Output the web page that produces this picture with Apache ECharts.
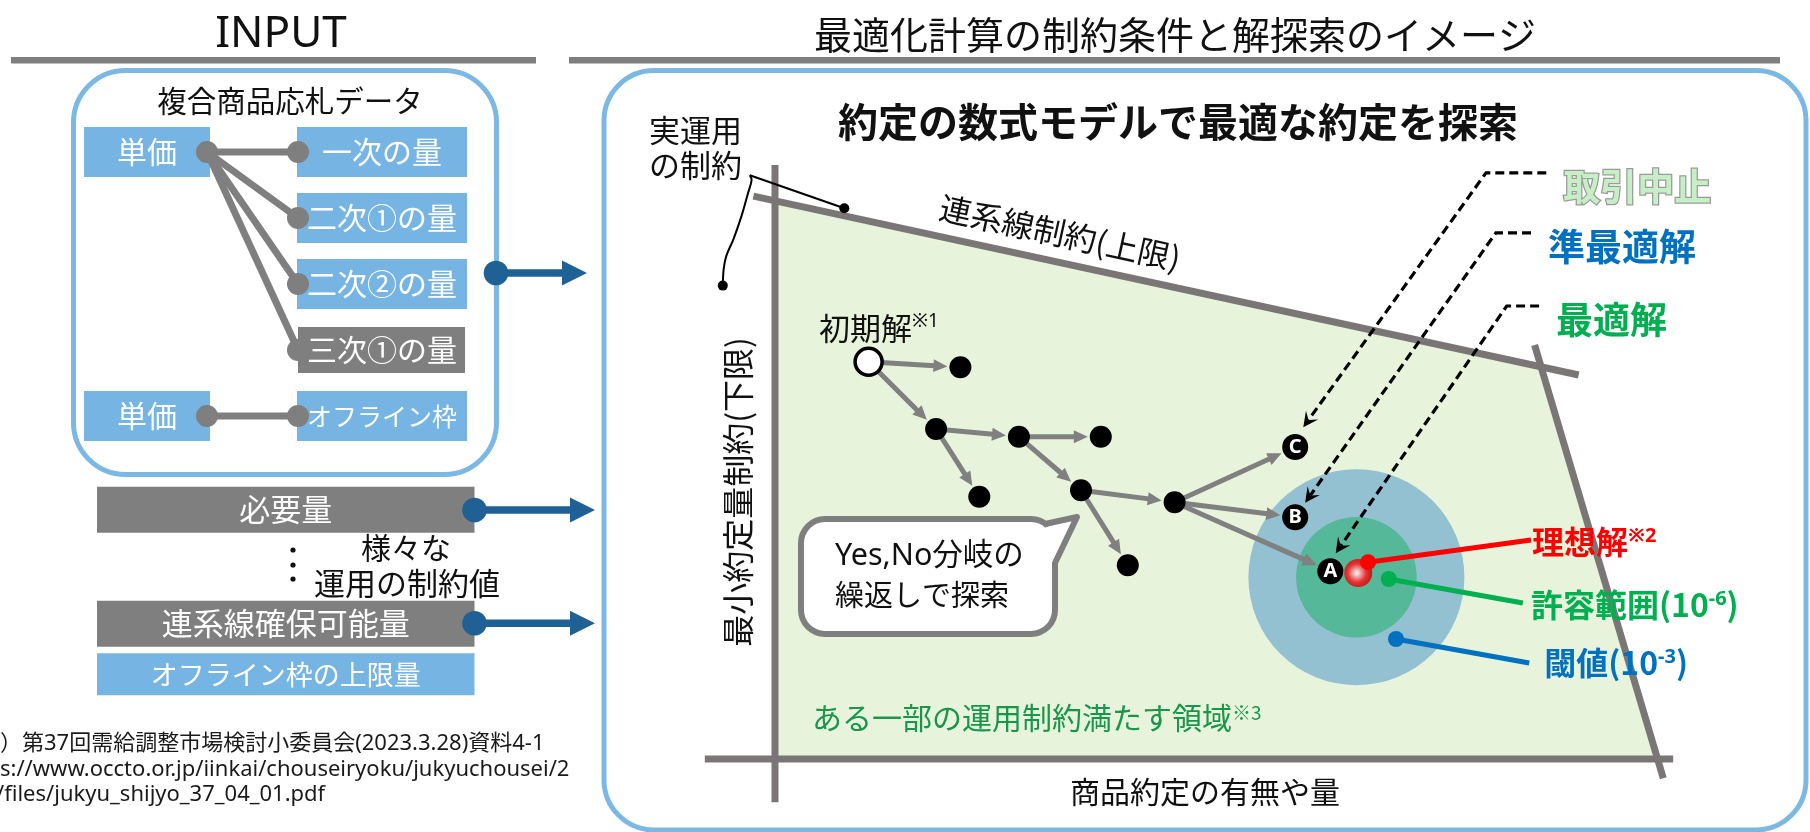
<!DOCTYPE html>
<html lang="ja">
<head>
<meta charset="utf-8">
<title>最適化計算の制約条件と解探索のイメージ</title>
<script src="https://cdn.jsdelivr.net/npm/echarts@6/dist/echarts.min.js"></script>
<style>
  html, body { margin: 0; padding: 0; background: #fff; }
  #chart { width: 1810px; height: 832px; }
</style>
</head>
<body>
<div id="chart"></div>
<script>
// ---------------- texts ----------------
const inputTitle = 'INPUT';
const panelTitle = '最適化計算の制約条件と解探索のイメージ';
const searchTitle = '約定の数式モデルで最適な約定を探索';
const bidDataTitle = '複合商品応札データ';
const priceLabel = '単価';
const quantityLabels = ['一次の量', '二次①の量', '二次②の量', '三次①の量', 'オフライン枠'];
const constraintItems = ['必要量', '連系線確保可能量', 'オフライン枠の上限量'];
const variousText = ['様々な', '運用の制約値'];
const sourceNote = [
  '）第37回需給調整市場検討小委員会(2023.3.28)資料4-1',
  's://www.occto.or.jp/iinkai/chouseiryoku/jukyuchousei/2',
  '/files/jukyu_shijyo_37_04_01.pdf'
];
const xAxisName = '商品約定の有無や量';
const minConstraintName = '最小約定量制約(下限)';
const linkConstraintName = '連系線制約(上限)';
const bracketText = ['実運用', 'の制約'];
const regionText = 'ある一部の運用制約満たす領域';
const bubbleText = ['Yes,No分岐の', '繰返しで探索'];
const initialLabel = '初期解';

// ---------------- bid data links (rows of the INPUT panel) ----------------
const priceRows = [0, 4];                          // rows holding a 単価 item
const quantityRows = [0, 1, 2, 3, 4];              // rows holding a quantity item
const bidLinks = [[0, 0], [0, 1], [0, 2], [0, 3], [4, 4]]; // [単価 row, quantity row]

// ---------------- search space (x: 0-100, y: 0-100) ----------------
const minContractLine = [[0, 99.0], [0, -7.2]];
const interconnectLine = [[-2.4, 93.8], [89.3, 64.0]];
const upperLimitLine = [[84.4, 69.0], [98.7, -3.2]];
const baseLine = [[-7.8, 0], [99.8, 0]];

const initialSolution = [10.4, 66.2];
const searchSteps = [
  [20.6, 65.3], [17.9, 55.0], [27.1, 53.7], [36.2, 53.7],
  [22.7, 43.7], [34.0, 44.8], [39.2, 32.3], [44.4, 42.8]
];
const candidateNames = ['C', 'B', 'A'];
const candidates = [[57.8, 52.0], [57.8, 40.3], [61.7, 31.3]];
const searchEdges = [
  ['S', 0], ['S', 1], [1, 2], [2, 3], [1, 4], [2, 5],
  [5, 7], [5, 6], [7, 'C'], [7, 'B'], [7, 'A']
];

const idealSolution = [64.8, 31.0];
const zoneCenter = [64.6, 30.3];
const thresholdRadius = 12.0;   // 閾値 10^-3
const toleranceRadius = 6.7;    // 許容範囲 10^-6

const noteTexts = ['理想解{s|※2}', '許容範囲(10{s|-6})', '閾値(10{s|-3})'];
const noteFrom = [[65.9, 32.8], [68.2, 30.0], [69.0, 20.0]];
const noteTo = [[84.0, 36.5], [83.1, 26.0], [83.8, 16.0]];

const statusTexts = ['取引中止', '準最適解', '最適解'];
const statusPaths = [
  [[85.7, 97.7], [79.0, 97.7], [58.7, 55.3]],
  [[84.0, 87.7], [80.1, 87.7], [58.9, 42.7]],
  [[84.9, 75.5], [81.3, 75.5], [62.3, 34.3]]
];

const bracketToLink = [[-2.8, 97.3], [7.7, 91.8]];
const bracketToMin = [[-2.8, 97.3], [-2.6, 96.5], [-3.0, 94.3], [-3.7, 90.6],
                      [-4.6, 86.7], [-5.4, 83.9], [-5.7, 81.7], [-5.8, 78.9]];

// ---------------- styles ----------------
const JP = '"Noto Sans CJK JP", "Noto Sans", sans-serif';
const LATIN = '"Noto Sans", "Noto Sans CJK JP", sans-serif';
const BOX_BLUE = '#76b5e3';
const FRAME_BLUE = '#7cb8e4';
const BOX_GREY = '#7f7f7f';
const NAVY = '#1f6195';
const AXIS_GREY = '#7a7676';
const ARROW_GREY = '#808080';
const INK = '#111111';
const noteColors = ['#ff0000', '#00b050', '#0070c0'];
const noteOffsets = [[1, 2], [8, 2], [15, 0]];
const statusColors = ['#c6efc6', '#0070c0', '#00b050'];
const zoneColors = ['#93c1d1', '#55b898'];

// ---------------- helpers ----------------
function text(x, y, str, size, o = {}) {
  const align = o.align || 'center';
  return {
    type: 'text', x, y, z: o.z || 100, rotation: o.rotation || 0,
    style: {
      text: str,
      fill: o.color || INK,
      font: (o.weight || 'normal') + ' ' + size + 'px ' + (o.family || JP),
      textAlign: align, align: align,
      textVerticalAlign: 'middle', verticalAlign: 'middle',
      rich: o.rich
    }
  };
}
function rect(x, y, w, h, fill, z = 1) {
  return { type: 'rect', z, shape: { x, y, width: w, height: h }, style: { fill } };
}
function navyArrow(cx, cy, tipX) {
  return [
    { type: 'line', z: 5, shape: { x1: cx, y1: cy, x2: tipX - 22, y2: cy }, style: { stroke: NAVY, lineWidth: 7.5 } },
    { type: 'polygon', z: 5, shape: { points: [[tipX, cy], [tipX - 25, cy - 12.5], [tipX - 25, cy + 12.5]] }, style: { fill: NAVY } },
    { type: 'circle', z: 5, shape: { cx, cy, r: 12.3 }, style: { fill: NAVY } }
  ];
}
function intersect(l1, l2) {
  const [[x1, y1], [x2, y2]] = l1, [[x3, y3], [x4, y4]] = l2;
  const d = (x1 - x2) * (y3 - y4) - (y1 - y2) * (x3 - x4);
  const a = x1 * y2 - y1 * x2, b = x3 * y4 - y3 * x4;
  return [(a * (x3 - x4) - (x1 - x2) * b) / d, (a * (y3 - y4) - (y1 - y2) * b) / d];
}
function nodeAt(k) {
  if (k === 'S') return initialSolution;
  if (typeof k === 'number') return searchSteps[k];
  return candidates[candidateNames.indexOf(k)];
}
// straight segments drawn through the axis scales
function segmentSeries(xi, yi, segs, color, width, z) {
  return {
    type: 'custom', xAxisIndex: xi, yAxisIndex: yi, z,
    data: segs.map(s => [s[0][0], s[0][1], s[1][0], s[1][1]]),
    renderItem: (p, api) => {
      const a = api.coord([api.value(0), api.value(1)]);
      const b = api.coord([api.value(2), api.value(3)]);
      return { type: 'line', shape: { x1: a[0], y1: a[1], x2: b[0], y2: b[1] }, style: { stroke: color, lineWidth: width } };
    }
  };
}

// feasible region bounded by the four constraint lines
const feasibleRegion = [
  intersect(minContractLine, interconnectLine),
  intersect(interconnectLine, upperLimitLine),
  intersect(upperLimitLine, baseLine),
  intersect(baseLine, minContractLine)
];

// ---------------- layout graphics ----------------
const rowY = r => 152 + 66 * r;
const g = [];
// headers
g.push(text(281, 34, inputTitle, 44, { family: LATIN }));
g.push(text(1175, 35, panelTitle, 38));
g.push(rect(11, 57, 525, 6.5, '#7f7f7f'));
g.push(rect(569, 57, 1211, 6.5, '#7f7f7f'));
// panel frames
g.push({ type: 'rect', z: 1, shape: { x: 73.5, y: 70.5, width: 423, height: 404, r: 52 },
         style: { fill: 'none', stroke: FRAME_BLUE, lineWidth: 5 } });
g.push({ type: 'rect', z: 1, shape: { x: 604, y: 70.5, width: 1202, height: 759.5, r: 50 },
         style: { fill: 'none', stroke: FRAME_BLUE, lineWidth: 5 } });
g.push(text(290, 101, bidDataTitle, 29.5));
// price boxes
priceRows.forEach(r => {
  g.push(rect(84, rowY(r) - 25, 126, 50, BOX_BLUE));
  g.push(text(147, rowY(r), priceLabel, 30, { color: '#fff' }));
});
// quantity boxes
quantityRows.forEach((r, i) => {
  const grey = quantityLabels[i] === '三次①の量';
  if (grey) g.push(rect(298, rowY(r) - 23, 167, 46, BOX_GREY));
  else g.push(rect(297, rowY(r) - 25, 170, 50, BOX_BLUE));
  const size = quantityLabels[i] === 'オフライン枠' ? 25 : 30;
  g.push(text(382, rowY(r), quantityLabels[i], size, { color: '#fff' }));
});
// operational constraint boxes
const cBoxes = [[486.7, 46, BOX_GREY, 31], [600.7, 46, BOX_GREY, 31], [653.3, 42, BOX_BLUE, 27]];
constraintItems.forEach((t, i) => {
  const [y, h, fill, fs] = cBoxes[i];
  g.push(rect(97, y, 377.5, h, fill));
  g.push(text(285.7, y + h / 2, t, fs, { color: '#fff' }));
});
[550, 565, 579].forEach(y => g.push({ type: 'circle', z: 5, shape: { cx: 293, cy: y, r: 2.6 }, style: { fill: '#111' } }));
g.push(text(406, 548, variousText[0], 30));
g.push(text(407, 583, variousText[1], 31));
g.push(...navyArrow(496, 273, 587), ...navyArrow(474.5, 510, 595), ...navyArrow(474.5, 623.3, 595));
// source note
sourceNote.forEach((t, i) => g.push(text(i === 2 ? -4 : 0, [744, 770, 795][i], t, 22, { align: 'left', family: LATIN, color: '#1a1a1a' })));

// search space annotations
g.push(text(1178, 122, searchTitle, 40, { weight: 'bold' }));
g.push(text(649, 130, bracketText[0], 31, { align: 'left' }));
g.push(text(649, 165, bracketText[1], 31, { align: 'left' }));
g.push(text(1060, 233, linkConstraintName, 32, { rotation: -Math.atan(179 / 826) }));
g.push(text(738, 492, minConstraintName, 32, { rotation: Math.PI / 2 }));
g.push(text(1205, 792, xAxisName, 30));
g.push(text(812, 718, regionText + '{s|※3}', 30, {
  align: 'left', color: '#18964a',
  rich: { s: { font: '19px ' + JP, verticalAlign: 'top' } }
}));
g.push(text(819, 328, initialLabel + '{s|※1}', 31, {
  align: 'left', rich: { s: { font: '19px ' + LATIN, verticalAlign: 'top' } }
}));
// speech bubble: rounded box + tail
g.push({ type: 'rect', z: 20, shape: { x: 801, y: 519, width: 254, height: 115, r: 24 },
         style: { fill: '#fff', stroke: '#7f7f7f', lineWidth: 6 } });
g.push({ type: 'polygon', z: 21, shape: { points: [[1046, 527], [1077, 517], [1055, 562], [1046, 562], [1040, 534]] },
         style: { fill: '#fff' } });
g.push({ type: 'polyline', z: 22, shape: { points: [[1045, 524], [1077, 517], [1055, 563]] },
         style: { fill: 'none', stroke: '#7f7f7f', lineWidth: 6, lineJoin: 'round' } });
g.push(text(835, 556, bubbleText[0], 30.5, { align: 'left', z: 101, family: LATIN }));
g.push(text(835, 595, bubbleText[1], 29, { align: 'left', z: 101 }));

// ---------------- chart ----------------
const chart = echarts.init(document.getElementById('chart'));
chart.setOption({
  animation: false,
  grid: [
    { left: 207, top: 152, width: 91, height: 264 },
    { left: 775, top: 159, width: 900, height: 600 }
  ],
  xAxis: [
    { type: 'value', gridIndex: 0, min: 0, max: 1, show: false },
    { type: 'value', gridIndex: 1, min: 0, max: 100, show: false }
  ],
  yAxis: [
    { type: 'value', gridIndex: 0, min: 0, max: 4, inverse: true, show: false },
    { type: 'value', gridIndex: 1, min: 0, max: 100, show: false }
  ],
  graphic: { elements: g },
  series: [
    // links between 単価 and the quantity items
    segmentSeries(0, 0, bidLinks.map(([a, b]) => [[0, a], [1, b]]), BOX_GREY, 7, 3),
    {
      type: 'scatter', xAxisIndex: 0, yAxisIndex: 0, z: 4, symbolSize: 22,
      itemStyle: { color: BOX_GREY, opacity: 1 },
      data: priceRows.map(r => [0, r]).concat(quantityRows.map(r => [1, r]))
    },
    // feasible region
    {
      type: 'custom', xAxisIndex: 1, yAxisIndex: 1, z: 1, data: [[0, 0]],
      renderItem: (p, api) => ({
        type: 'polygon',
        shape: { points: feasibleRegion.map(pt => api.coord(pt)) },
        style: { fill: '#e8f3dc' }
      })
    },
    // threshold / tolerance zones
    {
      type: 'custom', xAxisIndex: 1, yAxisIndex: 1, z: 2,
      data: [[zoneCenter[0], zoneCenter[1], thresholdRadius], [zoneCenter[0], zoneCenter[1], toleranceRadius]],
      renderItem: (p, api) => {
        const c = api.coord([api.value(0), api.value(1)]);
        const r = api.size([api.value(2), 0])[0];
        return { type: 'circle', shape: { cx: c[0], cy: c[1], r }, style: { fill: zoneColors[p.dataIndex] } };
      }
    },
    // constraint lines
    segmentSeries(1, 1, [minContractLine, interconnectLine, upperLimitLine, baseLine], AXIS_GREY, 7, 3),
    // search steps (arrows)
    {
      type: 'custom', xAxisIndex: 1, yAxisIndex: 1, z: 4,
      data: searchEdges.map(([a, b]) => nodeAt(a).concat(nodeAt(b))),
      renderItem: (p, api) => {
        const to = searchEdges[p.dataIndex][1];
        const a = api.coord([api.value(0), api.value(1)]);
        const b = api.coord([api.value(2), api.value(3)]);
        const dx = b[0] - a[0], dy = b[1] - a[1], len = Math.hypot(dx, dy);
        const ux = dx / len, uy = dy / len;
        const gap = typeof to === 'string' ? 15 : 13;
        const tip = [b[0] - ux * gap, b[1] - uy * gap];
        const base = [tip[0] - ux * 14, tip[1] - uy * 14];
        const hw = 6.5;
        return {
          type: 'group', children: [
            { type: 'line', shape: { x1: a[0], y1: a[1], x2: base[0] + ux, y2: base[1] + uy }, style: { stroke: ARROW_GREY, lineWidth: 5 } },
            { type: 'polygon', shape: { points: [tip, [base[0] - uy * hw, base[1] + ux * hw], [base[0] + uy * hw, base[1] - ux * hw]] }, style: { fill: ARROW_GREY } }
          ]
        };
      }
    },
    // search nodes
    {
      type: 'scatter', xAxisIndex: 1, yAxisIndex: 1, z: 5, symbolSize: 22,
      itemStyle: { color: '#000', opacity: 1 }, data: searchSteps
    },
    {
      type: 'scatter', xAxisIndex: 1, yAxisIndex: 1, z: 5, symbolSize: 27,
      itemStyle: { color: '#fff', borderColor: '#000', borderWidth: 3.5, opacity: 1 }, data: [initialSolution]
    },
    {
      type: 'scatter', xAxisIndex: 1, yAxisIndex: 1, z: 5, symbolSize: 26,
      itemStyle: { color: '#000', opacity: 1 },
      label: { show: true, position: 'inside', formatter: '{b}', color: '#fff', fontWeight: 'bold', fontSize: 20, fontFamily: LATIN },
      data: candidates.map((c, i) => ({ name: candidateNames[i], value: c }))
    },
    // ideal solution
    {
      type: 'scatter', xAxisIndex: 1, yAxisIndex: 1, z: 6, symbolSize: 28,
      itemStyle: {
        opacity: 1,
        color: {
          type: 'radial', x: 0.45, y: 0.5, r: 0.55,
          colorStops: [
            { offset: 0, color: '#ffffff' }, { offset: 0.25, color: '#f2a5a5' },
            { offset: 0.6, color: '#e23434' }, { offset: 1, color: '#c81818' }
          ]
        }
      },
      data: [idealSolution]
    },
    // dashed status pointers
    {
      type: 'custom', xAxisIndex: 1, yAxisIndex: 1, z: 7,
      data: statusPaths.map(p => p[0]),
      renderItem: (p, api) => {
        const i = p.dataIndex;
        const pts = statusPaths[i].map(pt => api.coord(pt));
        const n = pts.length, tip = pts[n - 1], prev = pts[n - 2];
        const dx = tip[0] - prev[0], dy = tip[1] - prev[1], len = Math.hypot(dx, dy);
        const ux = dx / len, uy = dy / len;
        const base = [tip[0] - ux * 15, tip[1] - uy * 15];
        const inner = [tip[0] - ux * 9, tip[1] - uy * 9];
        const hw = 7.5;
        const isStop = i === 0;
        const label = {
          text: statusTexts[i], fill: statusColors[i],
          font: 'bold 37px ' + JP, textAlign: 'left', align: 'left',
          textVerticalAlign: 'middle', verticalAlign: 'middle'
        };
        if (isStop) { label.stroke = '#9a9a9a'; label.lineWidth = 2.5; }
        return {
          type: 'group', children: [
            { type: 'polyline', shape: { points: pts.slice(0, n - 1).concat([inner]) },
              style: { stroke: '#000', fill: 'none', lineWidth: 3.2, lineDash: [9, 5] } },
            { type: 'polygon', shape: { points: [tip, [base[0] - uy * hw, base[1] + ux * hw], inner, [base[0] + uy * hw, base[1] - ux * hw]] },
              style: { fill: '#000' } },
            { type: 'text', x: pts[0][0] + 17, y: pts[0][1] + 14, style: label }
          ]
        };
      }
    },
    // value notes (理想解 / 許容範囲 / 閾値)
    {
      type: 'custom', xAxisIndex: 1, yAxisIndex: 1, z: 8,
      data: noteFrom.map((f, i) => f.concat(noteTo[i])),
      renderItem: (p, api) => {
        const i = p.dataIndex;
        const a = api.coord([api.value(0), api.value(1)]);
        const b = api.coord([api.value(2), api.value(3)]);
        const color = noteColors[i];
        return {
          type: 'group', children: [
            { type: 'line', shape: { x1: a[0], y1: a[1], x2: b[0], y2: b[1] }, style: { stroke: color, lineWidth: 5 } },
            { type: 'circle', shape: { cx: a[0], cy: a[1], r: 8 }, style: { fill: color } },
            { type: 'text', x: b[0] + noteOffsets[i][0], y: b[1] + noteOffsets[i][1],
              style: {
                text: noteTexts[i], fill: color, font: 'bold 32px ' + JP,
                textAlign: 'left', align: 'left', textVerticalAlign: 'middle', verticalAlign: 'middle',
                rich: { s: { font: 'bold 20px ' + LATIN, verticalAlign: 'top' } }
              } }
          ]
        };
      }
    },
    // bracket for 実運用の制約
    {
      type: 'custom', xAxisIndex: 1, yAxisIndex: 1, z: 8, data: [bracketToLink[0]],
      renderItem: (p, api) => {
        const l1 = bracketToLink.map(pt => api.coord(pt));
        const l2 = bracketToMin.map(pt => api.coord(pt));
        const e1 = l1[l1.length - 1], e2 = l2[l2.length - 1];
        return {
          type: 'group', children: [
            { type: 'polyline', shape: { points: l1 }, style: { stroke: '#000', fill: 'none', lineWidth: 2 } },
            { type: 'polyline', shape: { points: l2, smooth: 0.35 }, style: { stroke: '#000', fill: 'none', lineWidth: 2 } },
            { type: 'circle', shape: { cx: e1[0], cy: e1[1], r: 5 }, style: { fill: '#000' } },
            { type: 'circle', shape: { cx: e2[0], cy: e2[1], r: 5 }, style: { fill: '#000' } }
          ]
        };
      }
    }
  ]
});
</script>
</body>
</html>
